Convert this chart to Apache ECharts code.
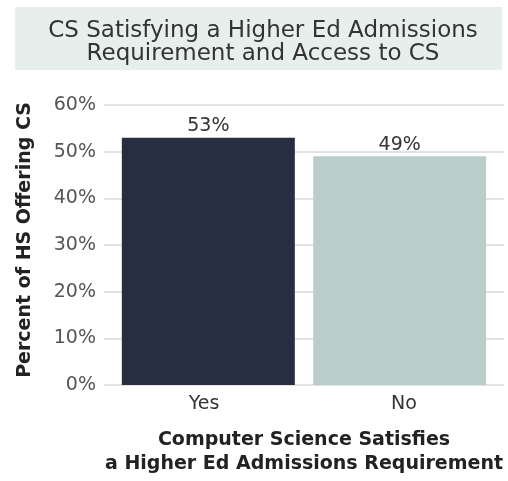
<!DOCTYPE html>
<html><head><meta charset="utf-8">
<script src="https://cdn.jsdelivr.net/npm/echarts@6/dist/echarts.min.js"></script>
<style>html,body{margin:0;padding:0;background:#fff}#c{width:508px;height:481px}</style>
</head><body><div id="c"></div>
<script>
const categories = ['Yes', 'No'];
const values = [53, 49];
const barColors = ['#272e42', '#b9cdcb'];
const yTicks = [0, 10, 20, 30, 40, 50, 60];

const FONT = '"DejaVu Sans", sans-serif';
const chart = echarts.init(document.getElementById('c'), null, {renderer: 'canvas'});

const series = categories.map((c, i) => ({
  type: 'bar',
  name: c,
  barWidth: 173,
  barGap: '-105%',
  itemStyle: {color: barColors[i]},
  data: values.map((v, j) => (j === i ? v : '-')),
  label: {show: true, position: 'top', distance: 2, fontFamily: FONT, fontSize: 19, color: '#333', formatter: p => p.value + '%'}
}));

chart.setOption({
  animation: false,
  graphic: [{
    type: 'rect', z: -1,
    shape: {x: 15, y: 7, width: 487, height: 63},
    style: {fill: '#e7efed'}
  }],
  title: {
    text: 'CS Satisfying a Higher Ed Admissions\nRequirement and Access to CS',
    left: 258, top: 15, textAlign: 'center',
    textStyle: {fontFamily: FONT, fontSize: 23, fontWeight: 'normal', color: '#333', lineHeight: 23}
  },
  grid: {left: 104, right: 4, top: 105, bottom: 90},
  xAxis: {
    type: 'category',
    data: categories,
    axisLine: {show: false},
    axisTick: {show: false},
    axisLabel: {fontFamily: FONT, fontSize: 19, color: '#333', margin: 10},
    name: 'Computer Science Satisfies\na Higher Ed Admissions Requirement',
    nameLocation: 'middle',
    nameGap: 43,
    nameTextStyle: {fontFamily: FONT, fontSize: 19, fontWeight: 'bold', color: '#222', lineHeight: 24, verticalAlign: 'top'}
  },
  yAxis: {
    type: 'value',
    min: yTicks[0], max: yTicks[yTicks.length - 1], interval: 10,
    axisLine: {show: false},
    axisTick: {show: false},
    axisLabel: {fontFamily: FONT, fontSize: 19, color: '#555', margin: 8, formatter: v => v + '%'},
    splitLine: {lineStyle: {color: '#e2e2e2', width: 2}},
    name: 'Percent of HS Offering CS',
    nameLocation: 'middle',
    nameGap: 69,
    nameTextStyle: {fontFamily: FONT, fontSize: 19, fontWeight: 'bold', color: '#222', padding: [0, 0, 0, 10]}
  },
  series: series
});
</script></body></html>
